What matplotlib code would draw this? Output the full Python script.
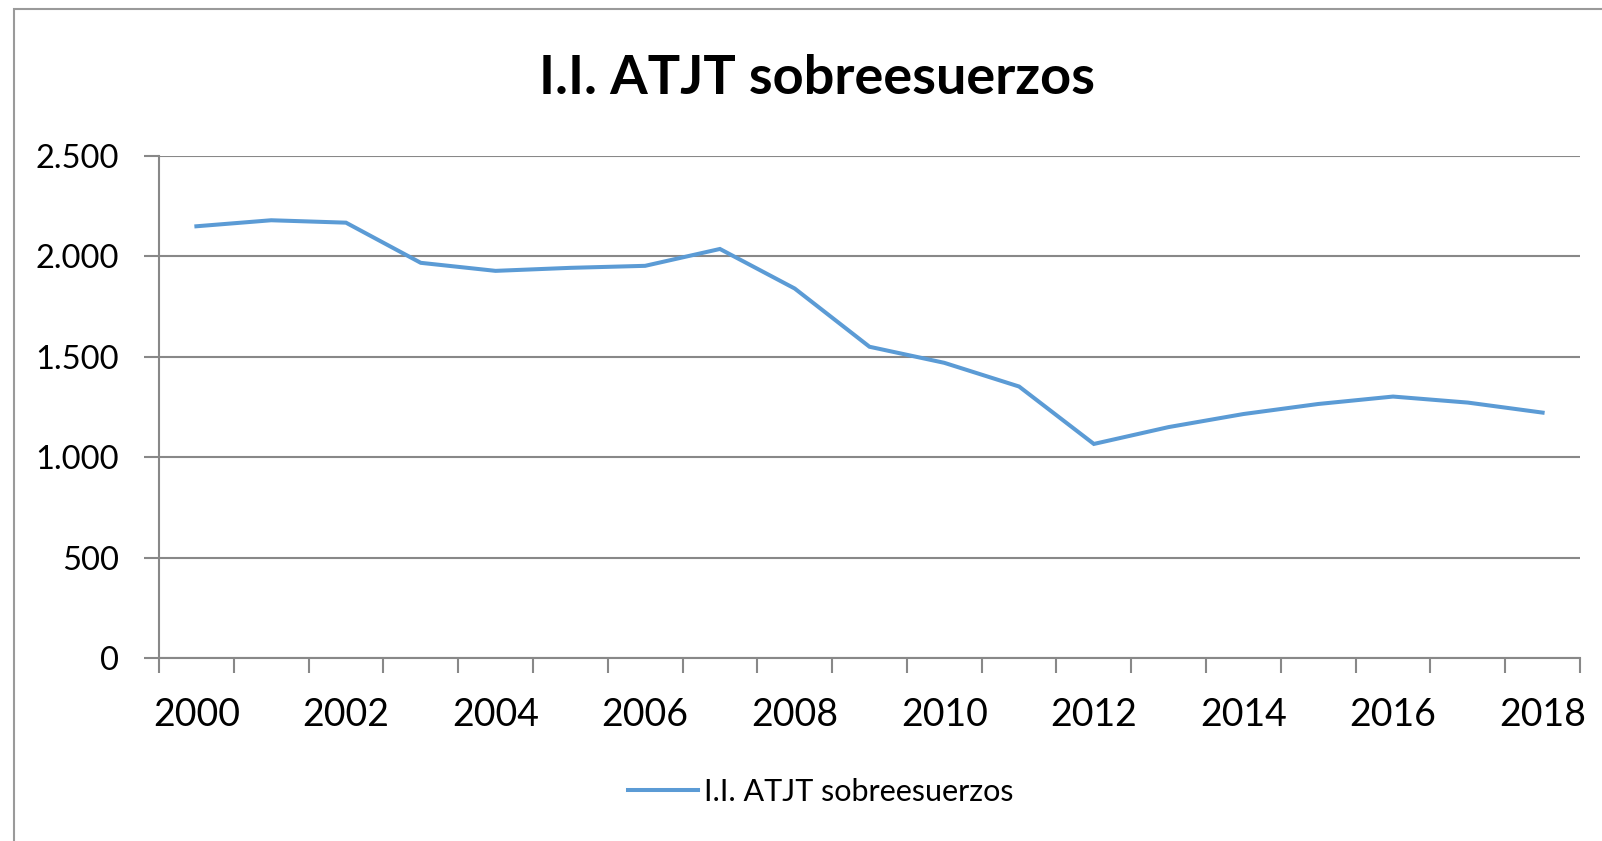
import matplotlib
matplotlib.use("Agg")
import matplotlib.pyplot as plt
from matplotlib.ticker import FuncFormatter, FixedLocator
from matplotlib.patches import Rectangle

years = list(range(2000, 2019))
values = [2150, 2180, 2168, 1968, 1928, 1943, 1953, 2037, 1840, 1550, 1470,
          1352, 1066, 1150, 1215, 1265, 1302, 1272, 1222]
series_name = "I.I. ATJT sobreesuerzos"
title = "I.I. ATJT sobreesuerzos"
yticks = [0, 500, 1000, 1500, 2000, 2500]
xlabel_years = list(range(2000, 2019, 2))

W, H = 1602, 841
fig = plt.figure(figsize=(W / 100, H / 100), dpi=100)
plt.rcParams['font.family'] = ['Lato', 'DejaVu Sans']

# chart area border
fig.patches.append(Rectangle((14 / W, -0.2), 1.2, 1 - 9 / H + 0.2, transform=fig.transFigure,
                             fill=False, edgecolor='#9a9a9a', lw=1.5))

left, right, top, bottom = 159, 1580, 156, 658
ax = fig.add_axes([left / W, 1 - bottom / H, (right - left) / W, (bottom - top) / H])

line_color = '#5B9BD5'
grid_color = '#888888'

ax.plot(years, values, color=line_color, lw=2.9, solid_joinstyle='miter', label=series_name,
        zorder=3)

ax.set_xlim(years[0] - 0.5, years[-1] + 0.5)
ax.set_ylim(0, 2500)

ax.set_yticks(yticks)
ax.yaxis.set_major_formatter(FuncFormatter(lambda v, p: f"{int(v):,}".replace(",", ".")))
ax.grid(axis='y', color=grid_color, lw=1.5, zorder=1)
ax.tick_params(axis='y', length=11, width=1.5, color=grid_color, labelsize=23.5, pad=18,
               labelcolor='black')

ax.xaxis.set_major_locator(FixedLocator(xlabel_years))
ax.xaxis.set_minor_locator(FixedLocator([y - 0.5 for y in years] + [years[-1] + 0.5]))
ax.tick_params(axis='x', which='major', length=0, labelsize=27, pad=28, labelcolor='black')
ax.tick_params(axis='x', which='minor', length=11, width=1.5, color=grid_color)

for s in ['top', 'right']:
    ax.spines[s].set_visible(False)
ax.spines['left'].set_color(grid_color)
ax.spines['left'].set_linewidth(1.5)
ax.spines['bottom'].set_color(grid_color)
ax.spines['bottom'].set_linewidth(1.5)

fig.text(817 / W, 1 - 94 / H, title, ha='center', va='baseline', fontsize=39,
         fontweight='bold', color='black')

fig.legend(loc='center', bbox_to_anchor=(821 / W, 1 - 792 / H), frameon=False,
           fontsize=22, handlelength=2.3, handletextpad=0.2)

fig.savefig("out.png", dpi=100)
